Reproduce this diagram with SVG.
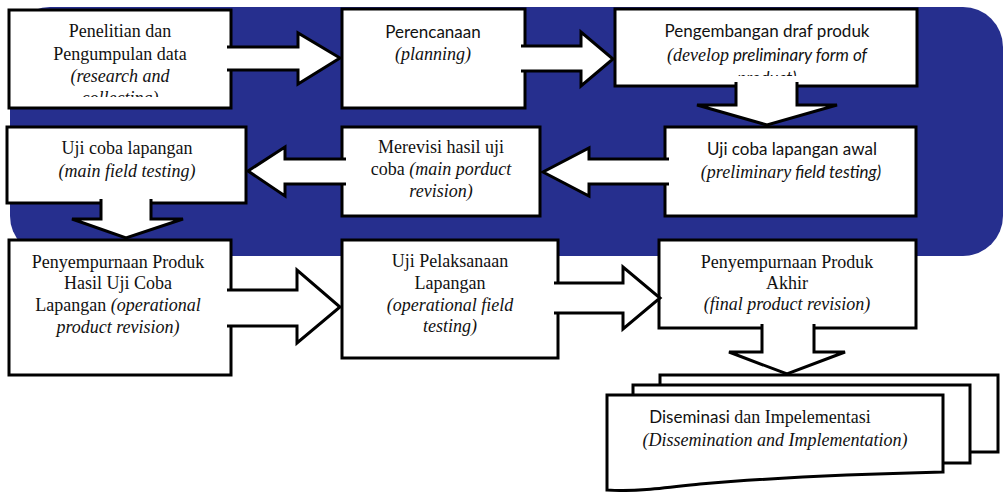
<svg xmlns="http://www.w3.org/2000/svg" width="1004" height="492" viewBox="0 0 1004 492">
<style>
.box{fill:#fff;stroke:#000;stroke-width:3}
.arr{fill:#fff;stroke:#000;stroke-width:3;stroke-linejoin:miter}
.it{font-style:italic}
text{text-anchor:middle;fill:#111}
</style>
<defs>
<clipPath id="c1"><rect x="9" y="10" width="222" height="87"/></clipPath>
<clipPath id="c3"><rect x="615" y="9" width="302" height="67"/></clipPath>
</defs>
<rect id="background" x="10" y="7" width="993" height="249" rx="40" ry="40" fill="#262F8E"/>

<g font-family="Liberation Serif, Times New Roman, serif" font-size="18">
<g id="n1">
<rect class="box" x="9" y="10" width="222" height="98"/>
<g clip-path="url(#c1)">
<text x="120" y="37">Penelitian dan</text>
<text x="120" y="60">Pengumpulan data</text>
<text class="it" x="120" y="82">(research and</text>
<text class="it" x="120" y="104">collecting)</text>
</g>
</g>
<g id="n2">
<rect class="box" x="342" y="9" width="183" height="99"/>
<text font-family="Lato, Liberation Sans, sans-serif" font-size="17" x="433" y="38">Perencanaan</text>
<text class="it" x="433" y="60">(planning)</text>
</g>
<g id="n3">
<rect class="box" x="615" y="9" width="302" height="77"/>
<g clip-path="url(#c3)">
<text font-family="Lato, Liberation Sans, sans-serif" font-size="17" x="767" y="37">Pengembangan draf produk</text>
<text class="it" x="767" y="61">(develop<tspan font-family="Lato, Liberation Sans, sans-serif" font-size="17"> preliminary form of</tspan></text>
<text class="it" font-family="Lato, Liberation Sans, sans-serif" font-size="17" x="767" y="84">product)</text>
</g>
</g>
<g id="n4">
<rect class="box" x="7" y="127" width="239" height="76"/>
<text x="127" y="154">Uji coba lapangan</text>
<text class="it" x="127" y="177">(main field testing)</text>
</g>
<g id="n5">
<rect class="box" x="342" y="127" width="198" height="89"/>
<text x="441" y="153">Merevisi hasil uji</text>
<text x="441" y="175">coba <tspan class="it">(main porduct</tspan></text>
<text class="it" x="441" y="197">revision)</text>
</g>
<g id="n6">
<rect class="box" x="665" y="127" width="251" height="89"/>
<text font-family="Lato, Liberation Sans, sans-serif" font-size="17" x="792" y="155">Uji coba lapangan awal</text>
<text class="it" x="791" y="178">(preliminary<tspan font-family="Lato, Liberation Sans, sans-serif" font-size="17"> field testing)</tspan></text>
</g>
<g id="n7">
<rect class="box" x="9" y="240" width="222" height="135"/>
<text x="118" y="268">Penyempurnaan Produk</text>
<text x="118" y="289">Hasil Uji Coba</text>
<text x="118" y="311">Lapangan <tspan class="it">(operational</tspan></text>
<text class="it" x="118" y="333">product revision)</text>
</g>
<g id="n8">
<rect class="box" x="342" y="240" width="216" height="118"/>
<text x="450" y="267">Uji Pelaksanaan</text>
<text x="450" y="289">Lapangan</text>
<text class="it" x="450" y="311">(operational field</text>
<text class="it" x="450" y="332">testing)</text>
</g>
<g id="n9">
<rect class="box" x="659" y="240" width="257" height="88"/>
<text x="787" y="268">Penyempurnaan Produk</text>
<text x="787" y="289">Akhir</text>
<text class="it" x="787" y="310">(final product revision)</text>
</g>
<g id="n10">
<rect class="box" x="660" y="375" width="338" height="77"/>
<rect class="box" x="633" y="385" width="337" height="78"/>
<path class="box" d="M607,395 H943 V472 C860,474 780,477 700,484 C665,488 635,492 607,490 Z"/>
<text x="760" y="423"><tspan font-family="Lato, Liberation Sans, sans-serif" font-size="17">Diseminasi</tspan> dan Impelementasi</text>
<text class="it" x="775" y="446">(Dissemination and Implementation)</text>
</g>
</g>

<g id="connectors">
<path class="arr" d="M227,47 H298 V33 L340,58 L298,84 V70 H227"/>
<path class="arr" d="M521,46 H581 V32 L613,59 L581,86 V71 H521"/>
<path class="arr" d="M736,82 V105 H697 L767,125 L837,105 H797 V82"/>
<path class="arr" d="M669,159 H589 V148 L543,172 L589,196 V184 H669"/>
<path class="arr" d="M346,159 H285 V147 L248,171 L285,196 V184 H346"/>
<path class="arr" d="M101,199 V219 H72 L126,238 L183,219 H151 V199"/>
<path class="arr" d="M227,290 H297 V270 L340,307 L297,343 V326 H227"/>
<path class="arr" d="M554,283 H623 V267 L660,298 L623,329 V313 H554"/>
<path class="arr" d="M762,324 V352 H729 L787,374 L845,352 H814 V324"/>
</g>
</svg>
